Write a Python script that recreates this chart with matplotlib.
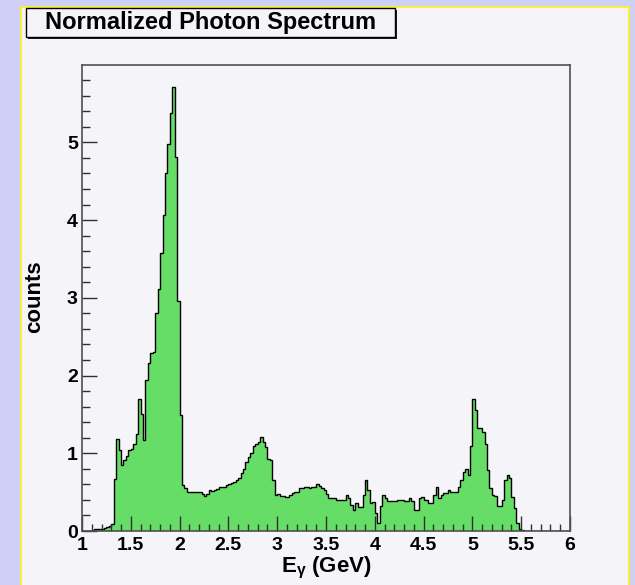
import numpy as np
import matplotlib
matplotlib.use('Agg')
import matplotlib.pyplot as plt
from matplotlib.patches import Rectangle

plt.rcParams['font.family'] = ['Liberation Sans', 'DejaVu Sans']
plt.rcParams['font.weight'] = 'bold'
plt.rcParams['mathtext.fontset'] = 'custom'
plt.rcParams['mathtext.rm'] = 'Liberation Sans:bold'
plt.rcParams['mathtext.it'] = 'Liberation Sans:bold'
plt.rcParams['mathtext.bf'] = 'Liberation Sans:bold'

# histogram: 200 bins from 1 to 6 GeV
bin_lo = 1.0
bin_hi = 6.0
n_bins = 200

counts = [
    # 1.00 - 1.225
    0, 0, 0, 0, 0.01, 0.02, 0.02, 0.02, 0.03, 0.04,
    # 1.25 - 1.475
    0.055, 0.06, 0.086, 0.675, 1.19, 1.04, 0.85, 0.91, 0.97, 1.04,
    # 1.50 - 1.725
    1.06, 1.12, 1.25, 1.70, 1.51, 1.17, 1.94, 2.16, 2.29, 2.30,
    # 1.75 - 1.975
    2.80, 3.11, 3.58, 4.07, 4.61, 4.98, 5.38, 5.71, 4.81, 2.96,
    # 2.00 - 2.225
    1.49, 0.59, 0.55, 0.50, 0.50, 0.50, 0.50, 0.50, 0.50, 0.47,
    # 2.25 - 2.475
    0.45, 0.47, 0.53, 0.52, 0.53, 0.54, 0.56, 0.57, 0.57, 0.59,
    # 2.50 - 2.725
    0.60, 0.62, 0.63, 0.66, 0.68, 0.74, 0.80, 0.89, 0.95, 1.00,
    # 2.75 - 2.975
    1.09, 1.12, 1.15, 1.21, 1.15, 1.08, 0.92, 0.91, 0.65, 0.46,
    # 3.00 - 3.225
    0.47, 0.45, 0.45, 0.44, 0.44, 0.46, 0.49, 0.50, 0.50, 0.55,
    # 3.25 - 3.475
    0.55, 0.56, 0.56, 0.55, 0.57, 0.57, 0.61, 0.58, 0.55, 0.53,
    # 3.50 - 3.725
    0.48, 0.42, 0.42, 0.42, 0.40, 0.40, 0.40, 0.40, 0.46, 0.42,
    # 3.75 - 3.975
    0.33, 0.27, 0.36, 0.31, 0.31, 0.46, 0.65, 0.53, 0.36, 0.37,
    # 4.00 - 4.225
    0.23, 0.10, 0.32, 0.46, 0.42, 0.39, 0.39, 0.39, 0.39, 0.40,
    # 4.25 - 4.475
    0.40, 0.40, 0.39, 0.39, 0.42, 0.38, 0.27, 0.27, 0.42, 0.44,
    # 4.50 - 4.725
    0.40, 0.40, 0.36, 0.36, 0.46, 0.56, 0.42, 0.46, 0.49, 0.49,
    # 4.75 - 4.975
    0.53, 0.50, 0.50, 0.50, 0.56, 0.65, 0.76, 0.80, 0.72, 1.10,
    # 5.00 - 5.225
    1.70, 1.56, 1.32, 1.32, 1.27, 1.12, 0.78, 0.55, 0.46, 0.45,
    # 5.25 - 5.475
    0.32, 0.32, 0.40, 0.65, 0.72, 0.68, 0.44, 0.29, 0.10, 0.03,
    # 5.50 - 5.725
    0.01, 0, 0, 0, 0, 0, 0, 0, 0, 0,
    # 5.75 - 5.975
    0, 0, 0, 0, 0, 0, 0, 0, 0, 0,
]

x_ticks = [1, 1.5, 2, 2.5, 3, 3.5, 4, 4.5, 5, 5.5, 6]
x_tick_labels = ['1', '1.5', '2', '2.5', '3', '3.5', '4', '4.5', '5', '5.5', '6']
y_ticks = [0, 1, 2, 3, 4, 5]
y_tick_labels = ['0', '1', '2', '3', '4', '5']

title = 'Normalized Photon Spectrum'
x_title = r'E$_{\gamma}$ (GeV)'
y_title = 'counts'

W, H = 635, 585
bg_outer = '#cfd0f7'
bg_pad = '#f5f4f8'
fill_green = '#66dd66'

fig = plt.figure(figsize=(W / 100, H / 100), dpi=100)
fig.patch.set_facecolor(bg_outer)

# pad (canvas area) with yellow border
pad = Rectangle((21 / W, -0.01), (629 - 21) / W, 1 - 7 / H + 0.01,
                transform=fig.transFigure, facecolor=bg_pad,
                edgecolor='#f8f040', lw=1.5, zorder=-5)
fig.patches.append(pad)

ax = fig.add_axes([82 / W, 1 - 531 / H, (570 - 82) / W, (531 - 65) / H])
ax.set_facecolor(bg_pad)
ax.set_zorder(1)

edges = np.linspace(bin_lo, bin_hi, n_bins + 1)
ax.stairs(counts, edges, fill=True, facecolor=fill_green, edgecolor='none')
ax.stairs(counts, edges, color='black', lw=1)

ax.set_xlim(bin_lo, bin_hi)
ax.set_ylim(0, 1.05 * max(counts))

ax.set_xticks(x_ticks)
ax.set_xticklabels(x_tick_labels)
ax.set_xticks(np.arange(1, 6.01, 0.1), minor=True)
ax.set_yticks(y_ticks)
ax.set_yticklabels(y_tick_labels)
ax.set_yticks(np.arange(0, 5.95, 0.2), minor=True)

ax.tick_params(which='both', direction='in', top=False, right=False,
               color='#303030', width=1, labelsize=14)
ax.tick_params(axis='x', which='major', length=10.5, pad=4)
ax.tick_params(axis='x', which='minor', length=5)
ax.tick_params(axis='y', which='major', length=10.5, pad=3)
ax.tick_params(axis='y', which='minor', length=5.5)
for lab in ax.get_xticklabels() + ax.get_yticklabels():
    lab.set_fontweight('bold')
for s in ax.spines.values():
    s.set_color('#505050')
    s.set_linewidth(1.2)

# axis titles
fig.text(326 / W, 1 - 568 / H, x_title, ha='center', va='center',
         fontsize=16, fontweight='bold', zorder=3)
fig.text(35 / W, 1 - 297 / H, y_title, ha='center', va='center',
         rotation=90, fontsize=16, fontweight='bold', zorder=3)

# title box with shadow
bx0, by0, bx1, by1 = 26, 8, 395, 37
shadow = Rectangle(((bx0 + 2) / W, 1 - (by1 + 2) / H), (bx1 - bx0) / W, (by1 - by0) / H,
                   transform=fig.transFigure, facecolor='#202020', edgecolor='none', zorder=2)
box = Rectangle((bx0 / W, 1 - by1 / H), (bx1 - bx0) / W, (by1 - by0) / H,
                transform=fig.transFigure, facecolor=bg_pad, edgecolor='black', lw=1, zorder=3)
fig.patches.append(shadow)
fig.patches.append(box)
fig.text((bx0 + bx1) / 2 / W, 1 - (by0 + by1) / 2 / H, title, ha='center', va='center',
         fontsize=17, fontweight='bold', zorder=4)

fig.savefig('out.png', dpi=100, facecolor=fig.get_facecolor())
